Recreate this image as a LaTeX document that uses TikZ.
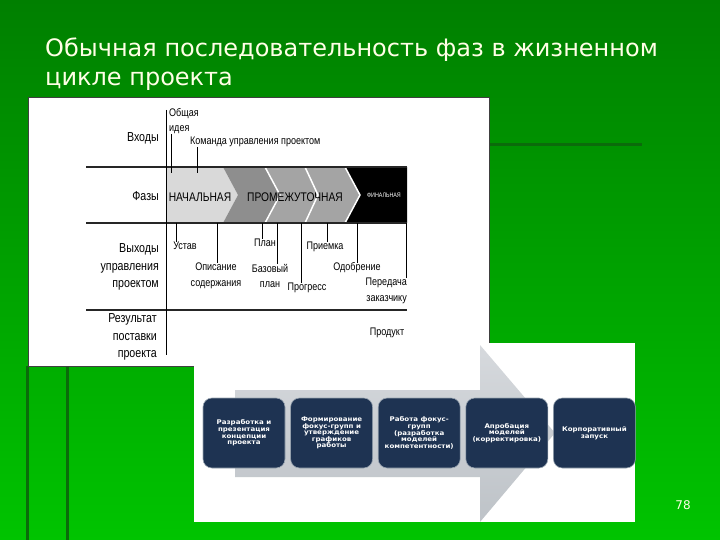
\documentclass[tikz,border=0pt]{standalone}
\usepackage{fontspec}
\setmainfont{DejaVu Sans}
\newfontfamily\narrowfont[FakeStretch=0.82]{Liberation Sans}
\newfontfamily\boxfont[FakeStretch=1.1]{DejaVu Sans}
\usetikzlibrary{positioning}

\definecolor{slidetop}{HTML}{007F00}
\definecolor{slidebot}{HTML}{00C400}
\definecolor{slideline}{HTML}{0B6B0B}
\definecolor{titletext}{HTML}{FFFFE6}
\definecolor{phaselight}{HTML}{D9D9D9}
\definecolor{phasedark}{HTML}{8E8E8E}
\definecolor{phasemid}{HTML}{A4A4A4}
\definecolor{stagefill}{HTML}{1E3352}
\definecolor{stageedge}{HTML}{9AA6B2}
\definecolor{arrowtop}{HTML}{D6D9DD}
\definecolor{arrowbot}{HTML}{BEC3C8}

\tikzset{
  slidetitle/.style={font=\fontsize{24}{29}\selectfont, text=titletext, align=left, inner sep=0pt},
  rowlabel/.style={font=\narrowfont\fontsize{13}{17.5}\selectfont, align=right, anchor=east, inner sep=0pt},
  smalllabel/.style={font=\narrowfont\fontsize{11}{15.5}\selectfont, align=center, inner sep=0pt},
  phasename/.style={font=\narrowfont\fontsize{12.5}{14}\selectfont, inner sep=0pt},
  rowline/.style={line width=2.4pt, black!85},
  tickline/.style={line width=0.9pt, black},
  stagebox/.style={draw=stageedge, line width=0.6pt, fill=stagefill, rounded corners=9pt,
    minimum width=82pt, minimum height=70pt, text=white, align=center, inner sep=1pt,
    font=\boxfont\bfseries\fontsize{6.4}{6.6}\selectfont}
}

\begin{document}
\begin{tikzpicture}[x=1pt,y=-1pt]
  % Slide canvas and green background
  \useasboundingbox (0,0) rectangle (720,540);
  \shade[top color=slidetop, bottom color=slidebot] (0,0) rectangle (720,540);

  % Decorative slide lines
  \draw[slideline, line width=3pt] (489,145) -- (642,145);
  \draw[slideline, line width=3pt] (27,366) -- (27,540);
  \draw[slideline, line width=3pt] (67,366) -- (67,540);

  % Title
  \node[slidetitle, anchor=north west] (title) at (45,38)
    {Обычная последовательность фаз в жизненном\\цикле проекта};

  % White panel with the life cycle table
  \draw[black!75, fill=white, line width=0.8pt] (28,97) rectangle (489,366);

  \def\bandtop{167} % Top rule of the phase band
  \def\bandbot{223} % Bottom rule of the phase band
  \def\bandmid{195} % Chevron tips

  % Drawing the phase chevrons
  \fill[phaselight] (166,\bandtop) -- (223,\bandtop) -- (238,\bandmid) -- (223,\bandbot) -- (166,\bandbot) -- cycle;
  \fill[phasedark] (223,\bandtop) -- (265,\bandtop) -- (280,\bandmid) -- (265,\bandbot) -- (223,\bandbot) -- (238,\bandmid) -- cycle;
  \fill[phasemid] (265,\bandtop) -- (345,\bandtop) -- (360,\bandmid) -- (345,\bandbot) -- (265,\bandbot) -- (280,\bandmid) -- cycle;
  \fill[black] (345,\bandtop) -- (407,\bandtop) -- (407,\bandbot) -- (345,\bandbot) -- (360,\bandmid) -- cycle;
  \draw[white, line width=1.5pt] (265,\bandtop) -- (280,\bandmid) -- (265,\bandbot);
  \draw[white, line width=1.5pt] (305,\bandtop) -- (318,\bandmid) -- (305,\bandbot);
  \draw[white, line width=1.5pt] (345,\bandtop) -- (360,\bandmid) -- (345,\bandbot);

  % Drawing the row rules and the start line
  \draw[rowline] (86,\bandtop) -- (407,\bandtop);
  \draw[rowline] (86,\bandbot) -- (407,\bandbot);
  \draw[rowline] (86,310) -- (407,310);
  \draw[tickline] (166,110) -- (166,355);

  % Row headings
  \node[rowlabel] (inputs) at (159,138) {Входы};
  \node[rowlabel] (phases) at (159,196) {Фазы};
  \node[rowlabel] (outputs) at (159,267) {Выходы\\управления\\проектом};
  \node[rowlabel] (result) at (157,337) {Результат\\поставки\\проекта};

  % Phase names
  \node[phasename] (initial) at (200,197) {НАЧАЛЬНАЯ};
  \node[phasename] (middle) at (295,197) {ПРОМЕЖУТОЧНАЯ};
  \node[phasename, text=white, font=\narrowfont\fontsize{6.5}{7}\selectfont] (final) at (384,195) {ФИНАЛЬНАЯ};

  % Inputs
  \node[smalllabel, align=left, anchor=west] (idea) at (169,121) {Общая\\идея};
  \node[smalllabel, anchor=west] (team) at (190,142) {Команда управления проектом};
  \coordinate (ideatick) at (171,173);
  \coordinate (teamtick) at (197,173);
  \draw[tickline] (ideatick) -- (ideatick |- idea.south);
  \draw[tickline] (teamtick) -- (teamtick |- team.south);

  % Outputs
  \node[smalllabel] (charter) at (185,246) {Устав};
  \node[smalllabel] (scope) at (216,276) {Описание\\содержания};
  \node[smalllabel] (plan) at (265,243) {План};
  \node[smalllabel] (baseline) at (270,276) {Базовый\\план};
  \node[smalllabel] (progress) at (307,288) {Прогресс};
  \node[smalllabel] (accept) at (325,247) {Приемка};
  \node[smalllabel] (approve) at (357,268) {Одобрение};
  \node[smalllabel, align=right, anchor=east] (handover) at (407,291) {Передача\\заказчику};
  \node[smalllabel] (product) at (387,333) {Продукт};

  \coordinate (charterpt) at (176,\bandbot);
  \coordinate (scopept) at (217,\bandbot);
  \coordinate (planpt) at (262,\bandbot);
  \coordinate (basept) at (277,\bandbot);
  \coordinate (progpt) at (301,\bandbot);
  \coordinate (accpt) at (327,\bandbot);
  \coordinate (apppt) at (357,\bandbot);
  \coordinate (handpt) at (406,\bandbot);
  \draw[tickline] (charterpt) -- (charterpt |- charter.north);
  \draw[tickline] (scopept) -- (scopept |- scope.north);
  \draw[tickline] (planpt) -- (planpt |- plan.north);
  \draw[tickline] (basept) -- (basept |- baseline.north);
  \draw[tickline] (progpt) -- (progpt |- progress.north);
  \draw[tickline] (accpt) -- (accpt |- accept.north);
  \draw[tickline] (apppt) -- (apppt |- approve.north);
  \draw[tickline] (handpt) -- (handpt |- handover.north);

  % White panel with the rollout arrow
  \fill[white] (194,343) rectangle (635,522);
  \shade[top color=arrowtop, bottom color=arrowbot]
    (235,390) -- (480,390) -- (480,345) -- (555,433) -- (480,522) -- (480,477) -- (235,477) -- cycle;

  % Rollout stages
  \node[stagebox] (concept) at (244,433) {Разработка и\\презентация\\концепции\\проекта};
  \node[stagebox, right=5pt of concept] (groups) {Формирование\\фокус-групп и\\утверждение\\графиков\\работы};
  \node[stagebox, right=5pt of groups] (models) {Работа фокус-\\групп\\(разработка\\моделей\\компетентности)};
  \node[stagebox, right=5pt of models] (pilot) {Апробация\\моделей\\(корректировка)};
  \node[stagebox, right=5pt of pilot] (launch) {Корпоративный\\запуск};

  % Page number
  \node[font=\fontsize{12}{14}\selectfont, text=titletext] (pagenum) at (683,505) {78};
\end{tikzpicture}
\end{document}
